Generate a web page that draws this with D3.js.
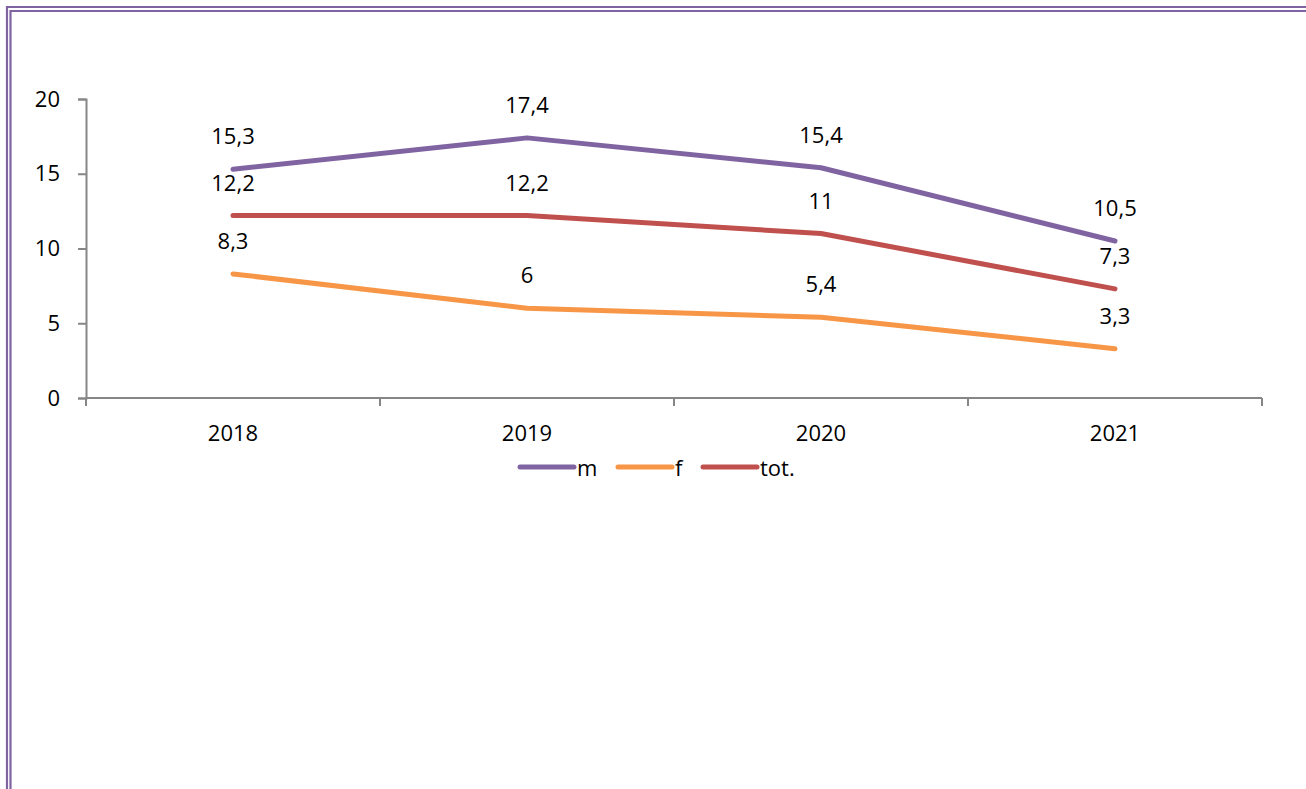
<!DOCTYPE html>
<html>
<head>
<meta charset="utf-8">
<script src="https://cdn.jsdelivr.net/npm/d3@7"></script>
<style>
  body { margin: 0; background: #fff; }
  svg { display: block; font-family: "Open Sans", "Noto Sans", sans-serif; }
</style>
</head>
<body>
<svg></svg>
<script>
const width = 1306;
const height = 789;

const years = ["2018", "2019", "2020", "2021"];
const mValues = [15.3, 17.4, 15.4, 10.5];
const fValues = [8.3, 6, 5.4, 3.3];
const totValues = [12.2, 12.2, 11, 7.3];
const yTicks = [0, 5, 10, 15, 20];

const series = [
    { name: "m", values: mValues, color: "#8064a2" },
    { name: "f", values: fValues, color: "#f79646" },
    { name: "tot.", values: totValues, color: "#c0504d" }
];

const fontSize = 22;

const svg = d3.select("svg")
    .attr("width", width)
    .attr("height", height);

// double purple frame
const border = svg.append("g").attr("fill", "none").attr("stroke", "#8064a2").attr("stroke-width", 2.2);
border.append("path").attr("d", "M7,789 V7 H1306");
border.append("path").attr("d", "M10.5,789 V11 H1306");

const x = d3.scaleBand().domain(years).range([86, 1262]);
const y = d3.scaleLinear().domain([0, 20]).range([398, 99]);

// y axis
const yAxis = svg.append("g")
    .attr("transform", "translate(86,0)")
    .call(d3.axisLeft(y).tickValues(yTicks).tickSize(8).tickPadding(18));
yAxis.select(".domain").attr("stroke", "#868686").attr("stroke-width", 2);
yAxis.selectAll(".tick line").attr("stroke", "#868686").attr("stroke-width", 2);
yAxis.selectAll(".tick text").attr("font-size", fontSize).attr("fill", "#000")
    .attr("font-family", "'Open Sans', sans-serif");

// x axis with boundary ticks
const xAxis = svg.append("g").attr("transform", "translate(0,398)");
xAxis.append("line")
    .attr("x1", x.range()[0]).attr("x2", x.range()[1])
    .attr("stroke", "#868686").attr("stroke-width", 2);
const bounds = years.map(d => x(d)).concat([x.range()[1]]);
xAxis.selectAll("line.tk").data(bounds).join("line")
    .attr("class", "tk")
    .attr("x1", d => d).attr("x2", d => d)
    .attr("y1", 0).attr("y2", 8)
    .attr("stroke", "#868686").attr("stroke-width", 2);
xAxis.selectAll("text").data(years).join("text")
    .attr("x", d => x(d) + x.bandwidth() / 2)
    .attr("y", 34)
    .attr("text-anchor", "middle")
    .attr("dominant-baseline", "central")
    .attr("font-size", fontSize)
    .text(d => d);

const cx = d => x(d) + x.bandwidth() / 2;
const line = d3.line()
    .x((d, i) => cx(years[i]))
    .y(d => y(d));

for (const s of series) {
    svg.append("path")
        .attr("d", line(s.values))
        .attr("fill", "none")
        .attr("stroke", s.color)
        .attr("stroke-width", 5)
        .attr("stroke-linecap", "round")
        .attr("stroke-linejoin", "round");

    svg.append("g").selectAll("text").data(s.values).join("text")
        .attr("x", (d, i) => cx(years[i]))
        .attr("y", d => y(d) - 34)
        .attr("text-anchor", "middle")
        .attr("dominant-baseline", "central")
        .attr("font-size", fontSize)
        .text(d => String(d).replace(".", ","));
}

// legend
const legendItems = [
    { x: 520, textX: 577 },
    { x: 618, textX: 675 },
    { x: 703, textX: 760 }
];
const legend = svg.append("g").attr("transform", "translate(0,467)");
series.forEach((s, i) => {
    legend.append("line")
        .attr("x1", legendItems[i].x).attr("x2", legendItems[i].x + 54)
        .attr("stroke", s.color).attr("stroke-width", 5).attr("stroke-linecap", "round");
    legend.append("text")
        .attr("x", legendItems[i].textX)
        .attr("y", 0)
        .attr("dominant-baseline", "central")
        .attr("font-size", fontSize)
        .text(s.name);
});
</script>
</body>
</html>
